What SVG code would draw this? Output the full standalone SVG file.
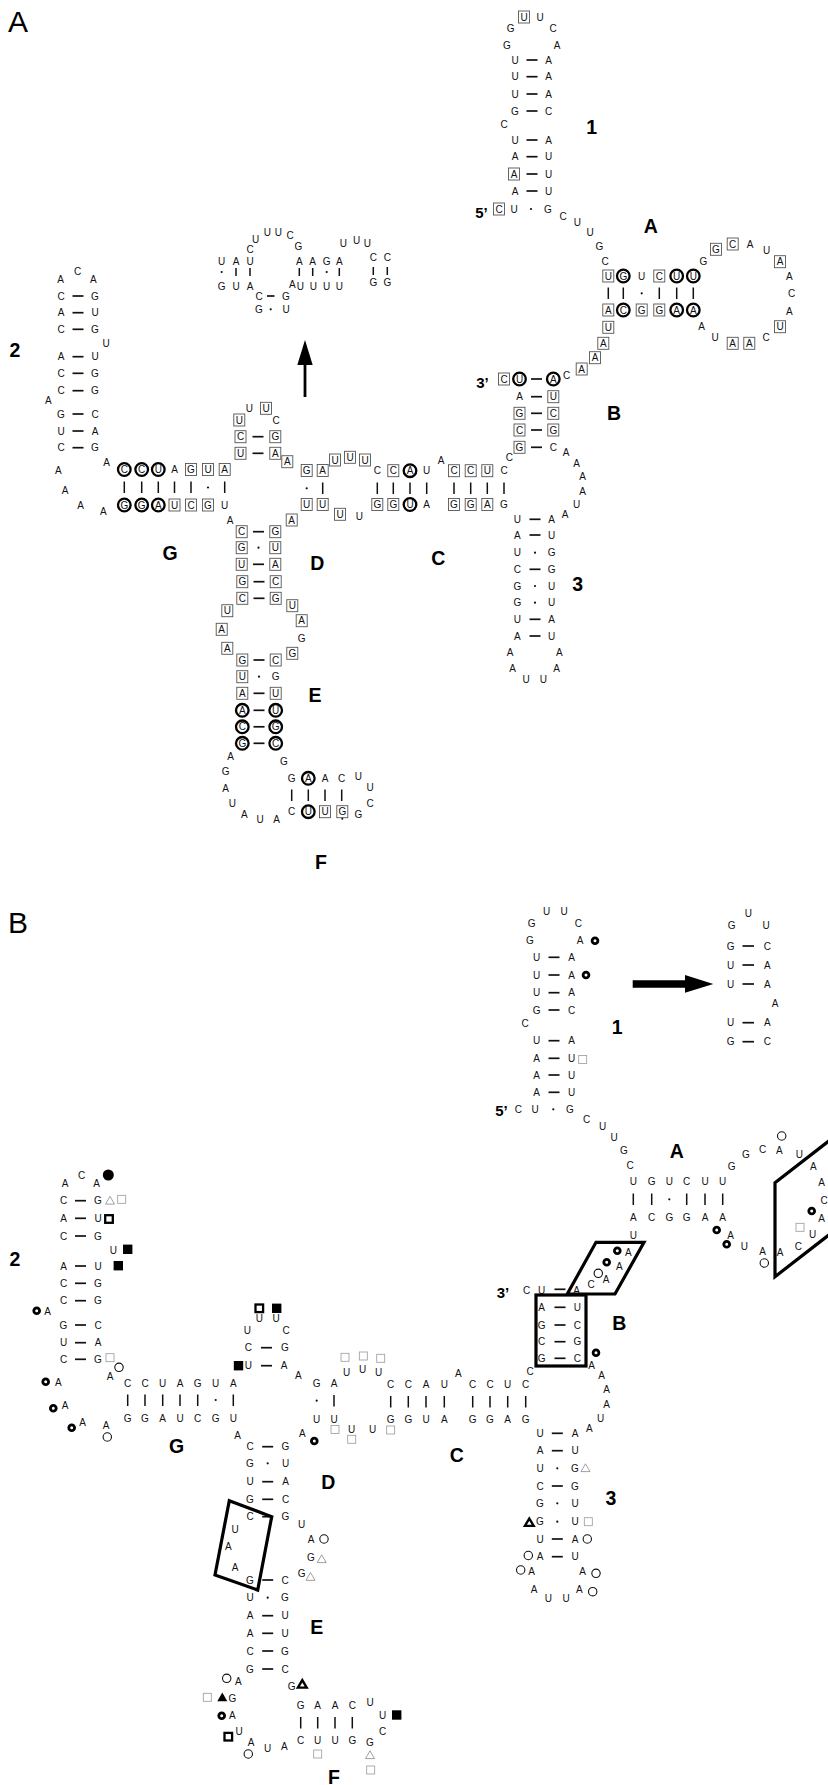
<svg xmlns="http://www.w3.org/2000/svg" width="828" height="1785" viewBox="0 0 828 1785">
<style>
text{font-family:"Liberation Sans",Arial,Helvetica,sans-serif;font-size:10px;text-anchor:middle;dominant-baseline:central;fill:#111}
.lb{font-size:19.5px;font-weight:bold;fill:#000}
.pn{font-size:30px;text-anchor:start;dominant-baseline:auto;fill:#000}
.end{font-size:15px;font-weight:bold;fill:#000}
line.p{stroke:#111;stroke-width:1.7}
line.b{stroke:#111;stroke-width:1.5}
circle.d{fill:#111}
.frame{fill:none;stroke:#000;stroke-width:3.2;stroke-linejoin:miter}
</style>
<defs>
<rect id="bx" x="-5.5" y="-6" width="11" height="12" fill="none" stroke="#555" stroke-width="0.9"/>
<circle id="rg" r="6.3" fill="none" stroke="#000" stroke-width="2.3"/>
<circle id="ring" r="2.9" fill="none" stroke="#000" stroke-width="2.8"/>
<circle id="oc" r="4.2" fill="none" stroke="#111" stroke-width="1.1"/>
<circle id="fc" r="5.5" fill="#000"/>
<rect id="fs" x="-4.7" y="-4.7" width="9.4" height="9.4" fill="#000"/>
<rect id="bs" x="-3.8" y="-3.8" width="7.6" height="7.6" fill="none" stroke="#000" stroke-width="2.3"/>
<rect id="ts" x="-4" y="-4" width="8" height="8" fill="none" stroke="#999" stroke-width="0.8"/>
<path id="ot" d="M0,-4.2 L4.5,3.6 L-4.5,3.6Z" fill="none" stroke="#888" stroke-width="0.8"/>
<path id="bt" d="M0,-3.8 L4.4,3.6 L-4.4,3.6Z" fill="none" stroke="#000" stroke-width="2.4"/>
<path id="ft" d="M0,-4.8 L5,4 L-5,4Z" fill="#000"/>
</defs>
<rect width="828" height="1785" fill="#fff"/>

<!-- ===================== Panel A ===================== -->
<text class="pn" x="8" y="32">A</text>

<g id="a-hairpin1">
<use href="#bx" x="524" y="17"/>
<text x="524" y="17">U</text><text x="540" y="17">U</text>
<text x="510.7" y="28">G</text><text x="553" y="28">C</text>
<text x="507" y="45">G</text><text x="557" y="45">A</text>
<text x="515" y="60">U</text><line class="p" x1="526.5" y1="60" x2="537.5" y2="60"/><text x="548.5" y="60">A</text>
<text x="515" y="76.7">U</text><line class="p" x1="526.5" y1="76.7" x2="537.5" y2="76.7"/><text x="548.5" y="76.7">A</text>
<text x="515" y="94">U</text><line class="p" x1="526.5" y1="94" x2="537.5" y2="94"/><text x="548.5" y="94">A</text>
<text x="515" y="111">G</text><line class="p" x1="526.5" y1="111" x2="537.5" y2="111"/><text x="548.5" y="111">C</text>
<text x="504" y="124">C</text>
<text x="515" y="140">U</text><line class="p" x1="526.5" y1="140" x2="537.5" y2="140"/><text x="548.5" y="140">A</text>
<text x="515" y="156.7">A</text><line class="p" x1="526.5" y1="156.7" x2="537.5" y2="156.7"/><text x="548.5" y="156.7">U</text>
<use href="#bx" x="514" y="174"/>
<text x="514" y="174">A</text><line class="p" x1="526.5" y1="174" x2="537.5" y2="174"/><text x="548.5" y="174">U</text>
<text x="515" y="191">A</text><line class="p" x1="526.5" y1="191" x2="537.5" y2="191"/><text x="548.5" y="191">U</text>
<text class="end" x="481.5" y="212">5’</text>
<use href="#bx" x="499" y="209"/><text x="499" y="209">C</text>
<text x="514" y="209">U</text><circle class="d" cx="531" cy="209" r="1.1"/><text x="548" y="209">G</text>
<text x="563" y="216">C</text><text x="577.3" y="222.7">U</text><text x="590" y="232.7">U</text>
<text x="599.3" y="246">G</text><text x="605" y="261">C</text>
</g>

<g id="a-stemA">
<use href="#bx" x="608.3" y="276"/><text x="608.3" y="276">U</text>
<use href="#rg" x="623.3" y="276"/><text x="623.3" y="276">G</text>
<text x="641.7" y="276">U</text>
<use href="#bx" x="659.3" y="276"/><text x="659.3" y="276">C</text>
<use href="#rg" x="676.7" y="276"/><text x="676.7" y="276">U</text>
<use href="#rg" x="693.3" y="276"/><text x="693.3" y="276">U</text>
<line class="b" x1="608.3" y1="287.5" x2="608.3" y2="299"/>
<line class="b" x1="623.3" y1="287.5" x2="623.3" y2="299"/>
<circle class="d" cx="641.7" cy="293.3" r="1.1"/>
<line class="b" x1="659.3" y1="287.5" x2="659.3" y2="299"/>
<line class="b" x1="676.7" y1="287.5" x2="676.7" y2="299"/>
<line class="b" x1="693.3" y1="287.5" x2="693.3" y2="299"/>
<use href="#bx" x="608.3" y="310"/><text x="608.3" y="310">A</text>
<use href="#rg" x="623.3" y="310"/><text x="623.3" y="310">C</text>
<use href="#bx" x="641.7" y="310"/><text x="641.7" y="310">G</text>
<use href="#bx" x="659.3" y="310"/><text x="659.3" y="310">G</text>
<use href="#rg" x="676.7" y="310"/><text x="676.7" y="310">A</text>
<use href="#rg" x="693.3" y="310"/><text x="693.3" y="310">A</text>
<use href="#bx" x="608.3" y="327.3"/><text x="608.3" y="327.3">U</text>
<use href="#bx" x="603.3" y="343.3"/><text x="603.3" y="343.3">A</text>
<use href="#bx" x="595" y="357.7"/><text x="595" y="357.7">A</text>
<use href="#bx" x="581.7" y="369"/><text x="581.7" y="369">A</text>
<text x="566.7" y="375.7">C</text>
</g>

<g id="a-loopA">
<text x="703.3" y="261.7">G</text>
<use href="#bx" x="716" y="249.3"/><text x="716" y="249.3">G</text>
<use href="#bx" x="732.7" y="244"/><text x="732.7" y="244">C</text>
<text x="750" y="244">A</text><text x="766.7" y="250">U</text>
<use href="#bx" x="780" y="261.7"/><text x="780" y="261.7">A</text>
<text x="789.3" y="276.7">A</text><text x="791.7" y="293.3">C</text><text x="789.3" y="311">A</text>
<use href="#bx" x="780" y="326.7"/><text x="780" y="326.7">U</text>
<text x="766" y="337.7">C</text>
<use href="#bx" x="749.3" y="343.3"/><text x="749.3" y="343.3">A</text>
<use href="#bx" x="732.7" y="343.3"/><text x="732.7" y="343.3">A</text>
<text x="715" y="337.7">U</text><text x="701.7" y="326">A</text>
</g>

<g id="a-stemB">
<text class="end" x="482.5" y="382">3’</text>
<use href="#bx" x="504" y="379"/><text x="504" y="379">C</text>
<use href="#rg" x="519.5" y="379"/><text x="519.5" y="379">U</text>
<line class="p" x1="531" y1="379" x2="542" y2="379"/>
<use href="#rg" x="553.3" y="379"/><text x="553.3" y="379">A</text>
<text x="519.5" y="396.7">A</text><line class="p" x1="531" y1="396.7" x2="542" y2="396.7"/>
<use href="#bx" x="553.3" y="396.7"/><text x="553.3" y="396.7">U</text>
<use href="#bx" x="519.5" y="413.3"/><text x="519.5" y="413.3">G</text><line class="p" x1="531" y1="413.3" x2="542" y2="413.3"/>
<use href="#bx" x="553.3" y="413.3"/><text x="553.3" y="413.3">C</text>
<use href="#bx" x="519.5" y="430"/><text x="519.5" y="430">C</text><line class="p" x1="531" y1="430" x2="542" y2="430"/>
<use href="#bx" x="553.3" y="430"/><text x="553.3" y="430">G</text>
<use href="#bx" x="519.5" y="447.3"/><text x="519.5" y="447.3">G</text><line class="p" x1="531" y1="447.3" x2="542" y2="447.3"/>
<text x="553.3" y="447.3">C</text>
<text x="566" y="452.3">A</text><text x="576.7" y="463.3">A</text><text x="582.7" y="476">A</text>
<text x="582.7" y="491">A</text><text x="576.7" y="504">U</text><text x="565" y="514">A</text>
<text x="509.3" y="457.7">C</text>
</g>

<g id="a-helixC">
<text x="377.3" y="470.7">C</text>
<use href="#bx" x="393.3" y="470.7"/><text x="393.3" y="470.7">C</text>
<use href="#rg" x="410" y="470.7"/><text x="410" y="470.7">A</text>
<text x="426.7" y="470.7">U</text>
<text x="441" y="460">A</text>
<use href="#bx" x="454" y="470.7"/><text x="454" y="470.7">C</text>
<use href="#bx" x="470.7" y="470.7"/><text x="470.7" y="470.7">C</text>
<use href="#bx" x="487.3" y="470.7"/><text x="487.3" y="470.7">U</text>
<text x="504" y="470.7">C</text>
<line class="b" x1="377.3" y1="482.5" x2="377.3" y2="494"/>
<line class="b" x1="393.3" y1="482.5" x2="393.3" y2="494"/>
<line class="b" x1="410" y1="482.5" x2="410" y2="494"/>
<line class="b" x1="426.7" y1="482.5" x2="426.7" y2="494"/>
<line class="b" x1="454" y1="482.5" x2="454" y2="494"/>
<line class="b" x1="470.7" y1="482.5" x2="470.7" y2="494"/>
<line class="b" x1="487.3" y1="482.5" x2="487.3" y2="494"/>
<line class="b" x1="504" y1="482.5" x2="504" y2="494"/>
<use href="#bx" x="377.3" y="504.5"/><text x="377.3" y="504.5">G</text>
<use href="#bx" x="393.3" y="504.5"/><text x="393.3" y="504.5">G</text>
<use href="#rg" x="410" y="504.5"/><text x="410" y="504.5">U</text>
<text x="426.7" y="504.5">A</text>
<use href="#bx" x="454" y="504.5"/><text x="454" y="504.5">G</text>
<use href="#bx" x="470.7" y="504.5"/><text x="470.7" y="504.5">G</text>
<use href="#bx" x="487.3" y="504.5"/><text x="487.3" y="504.5">A</text>
<text x="504" y="504.5">G</text>
</g>

<g id="a-hairpin3">
<text x="517.3" y="519.3">U</text><line class="p" x1="529.5" y1="519.3" x2="540.5" y2="519.3"/><text x="551.7" y="519.3">A</text>
<text x="517.3" y="535">A</text><line class="p" x1="529.5" y1="535" x2="540.5" y2="535"/><text x="551.7" y="535">U</text>
<text x="517.3" y="552.7">U</text><circle class="d" cx="535" cy="552.7" r="1.1"/><text x="551.7" y="552.7">G</text>
<text x="517.3" y="569.3">C</text><line class="p" x1="529.5" y1="569.3" x2="540.5" y2="569.3"/><text x="551.7" y="569.3">G</text>
<text x="517.3" y="586">G</text><circle class="d" cx="535" cy="586" r="1.1"/><text x="551.7" y="586">U</text>
<text x="517.3" y="602.7">G</text><circle class="d" cx="535" cy="602.7" r="1.1"/><text x="551.7" y="602.7">U</text>
<text x="517.3" y="619.3">U</text><line class="p" x1="529.5" y1="619.3" x2="540.5" y2="619.3"/><text x="551.7" y="619.3">A</text>
<text x="517.3" y="636">A</text><line class="p" x1="529.5" y1="636" x2="540.5" y2="636"/><text x="551.7" y="636">U</text>
<text x="510" y="652">A</text><text x="512.7" y="668.3">A</text><text x="526" y="679.3">U</text>
<text x="543.3" y="679.3">U</text><text x="556.7" y="668.3">A</text><text x="559.3" y="652">A</text>
</g>

<g id="a-junction">
<use href="#bx" x="335" y="460"/><text x="335" y="460">U</text>
<use href="#bx" x="350" y="457.3"/><text x="350" y="457.3">U</text>
<use href="#bx" x="365" y="460"/><text x="365" y="460">U</text>
<use href="#bx" x="306.7" y="470.5"/><text x="306.7" y="470.5">G</text>
<use href="#bx" x="322.7" y="470.5"/><text x="322.7" y="470.5">A</text>
<circle class="d" cx="306.7" cy="488.3" r="1.1"/>
<line class="b" x1="322.7" y1="482.5" x2="322.7" y2="494"/>
<use href="#bx" x="306.7" y="504.5"/><text x="306.7" y="504.5">U</text>
<use href="#bx" x="322.7" y="504.5"/><text x="322.7" y="504.5">U</text>
<use href="#bx" x="340" y="514.3"/><text x="340" y="514.3">U</text>
<text x="359.3" y="516">U</text>
<use href="#bx" x="287.3" y="461.7"/><text x="287.3" y="461.7">A</text>
<use href="#bx" x="291.7" y="520"/><text x="291.7" y="520">A</text>
<text x="230" y="520">A</text>
</g>

<g id="a-stemD">
<text x="249.3" y="408.3">U</text>
<use href="#bx" x="266" y="408.3"/><text x="266" y="408.3">U</text>
<use href="#bx" x="239.3" y="420"/><text x="239.3" y="420">U</text>
<text x="276" y="420">C</text>
<use href="#bx" x="240.5" y="436.7"/><text x="240.5" y="436.7">C</text><line class="p" x1="252.5" y1="436.7" x2="263.5" y2="436.7"/>
<use href="#bx" x="275.3" y="436.7"/><text x="275.3" y="436.7">G</text>
<use href="#bx" x="240.5" y="453.3"/><text x="240.5" y="453.3">U</text><line class="p" x1="252.5" y1="453.3" x2="263.5" y2="453.3"/>
<use href="#bx" x="275.3" y="453.3"/><text x="275.3" y="453.3">A</text>
<use href="#bx" x="241.7" y="531.7"/><text x="241.7" y="531.7">C</text><line class="p" x1="253" y1="531.7" x2="264" y2="531.7"/>
<use href="#bx" x="275.3" y="531.7"/><text x="275.3" y="531.7">G</text>
<use href="#bx" x="241.7" y="547.7"/><text x="241.7" y="547.7">G</text><circle class="d" cx="258.5" cy="547.7" r="1.1"/>
<use href="#bx" x="275.3" y="547.7"/><text x="275.3" y="547.7">U</text>
<use href="#bx" x="241.7" y="564.3"/><text x="241.7" y="564.3">U</text><line class="p" x1="253" y1="564.3" x2="264" y2="564.3"/>
<use href="#bx" x="275.3" y="564.3"/><text x="275.3" y="564.3">A</text>
<use href="#bx" x="242.3" y="581.7"/><text x="242.3" y="581.7">G</text><line class="p" x1="253.5" y1="581.7" x2="264.5" y2="581.7"/>
<use href="#bx" x="275.7" y="581.7"/><text x="275.7" y="581.7">C</text>
<use href="#bx" x="242.3" y="598.3"/><text x="242.3" y="598.3">C</text><line class="p" x1="253.5" y1="598.3" x2="264.5" y2="598.3"/>
<use href="#bx" x="275.7" y="598.3"/><text x="275.7" y="598.3">G</text>
</g>

<g id="a-loopE">
<use href="#bx" x="292.3" y="605.7"/><text x="292.3" y="605.7">U</text>
<use href="#bx" x="301.7" y="620.7"/><text x="301.7" y="620.7">A</text>
<text x="301.7" y="638.3">G</text>
<use href="#bx" x="292.3" y="653.3"/><text x="292.3" y="653.3">G</text>
<use href="#bx" x="227.3" y="610.7"/><text x="227.3" y="610.7">U</text>
<use href="#bx" x="221.7" y="629.3"/><text x="221.7" y="629.3">A</text>
<use href="#bx" x="227.3" y="648.3"/><text x="227.3" y="648.3">A</text>
</g>

<g id="a-stemE">
<use href="#bx" x="242.3" y="660"/><text x="242.3" y="660">G</text><line class="p" x1="253.5" y1="660" x2="264.5" y2="660"/>
<use href="#bx" x="275.7" y="660"/><text x="275.7" y="660">C</text>
<use href="#bx" x="242.3" y="676.7"/><text x="242.3" y="676.7">U</text><circle class="d" cx="259" cy="676.7" r="1.1"/>
<text x="275.7" y="676.7">G</text>
<use href="#bx" x="242.3" y="693.3"/><text x="242.3" y="693.3">A</text><line class="p" x1="253.5" y1="693.3" x2="264.5" y2="693.3"/>
<use href="#bx" x="275.7" y="693.3"/><text x="275.7" y="693.3">U</text>
<use href="#rg" x="242.3" y="710.3"/><text x="242.3" y="710.3">A</text><line class="p" x1="253.5" y1="710.3" x2="264.5" y2="710.3"/>
<use href="#rg" x="275.7" y="710.3"/><text x="275.7" y="710.3">U</text>
<use href="#rg" x="242.3" y="726.8"/><text x="242.3" y="726.8">C</text><line class="p" x1="253.5" y1="726.8" x2="264.5" y2="726.8"/>
<use href="#rg" x="275.7" y="726.8"/><text x="275.7" y="726.8">G</text>
<use href="#rg" x="242.3" y="743.3"/><text x="242.3" y="743.3">G</text><line class="p" x1="253.5" y1="743.3" x2="264.5" y2="743.3"/>
<use href="#rg" x="275.7" y="743.3"/><text x="275.7" y="743.3">C</text>
</g>

<g id="a-loopF">
<text x="230.7" y="756.7">A</text><text x="225.7" y="771.7">G</text><text x="225.7" y="788.3">A</text>
<text x="232.3" y="803.3">U</text><text x="244.3" y="814">A</text><text x="260" y="819.3">U</text><text x="276.7" y="819.3">A</text>
<text x="284" y="761">G</text>
<text x="291.7" y="778.3">G</text>
<use href="#rg" x="308.3" y="778.3"/><text x="308.3" y="778.3">A</text>
<text x="325" y="778.3">A</text><text x="341.7" y="778.3">C</text>
<text x="358.3" y="776">U</text><text x="370" y="787.3">U</text><text x="370" y="803.3">C</text><text x="358.3" y="814">G</text>
<line class="b" x1="291.7" y1="789.5" x2="291.7" y2="801"/>
<line class="b" x1="308.3" y1="789.5" x2="308.3" y2="801"/>
<line class="b" x1="325" y1="789.5" x2="325" y2="801"/>
<line class="b" x1="341.7" y1="789.5" x2="341.7" y2="801"/>
<text x="291.7" y="811.7">C</text>
<use href="#rg" x="308.3" y="811.7"/><text x="308.3" y="811.7">U</text>
<use href="#bx" x="325" y="811.7"/><text x="325" y="811.7">U</text>
<use href="#bx" x="342.3" y="811.7"/><text x="342.3" y="811.7">G</text>
<circle class="d" cx="342.3" cy="818.8" r="1"/>
</g>

<g id="a-hairpin2">
<text x="60.7" y="279.3">A</text><text x="77.7" y="271">C</text><text x="93.3" y="279.3">A</text>
<text x="61" y="296">C</text><line class="p" x1="72.5" y1="296" x2="83.5" y2="296"/><text x="95" y="296">G</text>
<text x="61" y="312.7">A</text><line class="p" x1="72.5" y1="312.7" x2="83.5" y2="312.7"/><text x="95" y="312.7">U</text>
<text x="61" y="329.3">C</text><line class="p" x1="72.5" y1="329.3" x2="83.5" y2="329.3"/><text x="95" y="329.3">G</text>
<text x="106" y="343.3">U</text>
<text x="61" y="356.7">A</text><line class="p" x1="72.5" y1="356.7" x2="83.5" y2="356.7"/><text x="95" y="356.7">U</text>
<text x="61" y="373.3">C</text><line class="p" x1="72.5" y1="373.3" x2="83.5" y2="373.3"/><text x="95" y="373.3">G</text>
<text x="61" y="390.7">C</text><line class="p" x1="72.5" y1="390.7" x2="83.5" y2="390.7"/><text x="95" y="390.7">G</text>
<text x="48.3" y="400.7">A</text>
<text x="61" y="414">G</text><line class="p" x1="72.5" y1="414" x2="83.5" y2="414"/><text x="95" y="414">C</text>
<text x="61" y="431">U</text><line class="p" x1="72.5" y1="431" x2="83.5" y2="431"/><text x="95" y="431">A</text>
<text x="61" y="447.7">C</text><line class="p" x1="72.5" y1="447.7" x2="83.5" y2="447.7"/><text x="95" y="447.7">G</text>
<text x="106.7" y="462.7">A</text>
<text x="58.3" y="470">A</text><text x="65" y="490.7">A</text><text x="80.7" y="505.7">A</text><text x="103.3" y="511.7">A</text>
</g>

<g id="a-helixG">
<use href="#rg" x="124.3" y="469.5"/><text x="124.3" y="469.5">C</text>
<use href="#rg" x="141.7" y="469.5"/><text x="141.7" y="469.5">C</text>
<use href="#rg" x="158.3" y="469.5"/><text x="158.3" y="469.5">U</text>
<text x="174.5" y="469.5">A</text>
<use href="#bx" x="191" y="469.5"/><text x="191" y="469.5">G</text>
<use href="#bx" x="208" y="469.5"/><text x="208" y="469.5">U</text>
<use href="#bx" x="224.7" y="469.5"/><text x="224.7" y="469.5">A</text>
<line class="b" x1="124.3" y1="481.5" x2="124.3" y2="493"/>
<line class="b" x1="141.7" y1="481.5" x2="141.7" y2="493"/>
<line class="b" x1="158.3" y1="481.5" x2="158.3" y2="493"/>
<line class="b" x1="174.5" y1="481.5" x2="174.5" y2="493"/>
<line class="b" x1="191" y1="481.5" x2="191" y2="493"/>
<circle class="d" cx="208" cy="487.5" r="1.1"/>
<line class="b" x1="224.7" y1="481.5" x2="224.7" y2="493"/>
<use href="#rg" x="124.3" y="505"/><text x="124.3" y="505">G</text>
<use href="#rg" x="141.7" y="505"/><text x="141.7" y="505">G</text>
<use href="#rg" x="158.3" y="505"/><text x="158.3" y="505">A</text>
<use href="#bx" x="174.5" y="505"/><text x="174.5" y="505">U</text>
<use href="#bx" x="191" y="505"/><text x="191" y="505">C</text>
<use href="#bx" x="208" y="505"/><text x="208" y="505">G</text>
<text x="224.7" y="505">U</text>
</g>

<g id="a-inset">
<text x="250" y="249.3">C</text><text x="255.5" y="239">U</text><text x="267.3" y="232.3">U</text>
<text x="278.3" y="232.3">U</text><text x="290" y="235.7">C</text><text x="298.3" y="246">G</text>
<text x="221.7" y="261.7">U</text><text x="236" y="261.7">A</text><text x="250" y="261.7">U</text>
<circle class="d" cx="221.7" cy="272" r="1.1"/>
<line class="b" x1="236" y1="268" x2="236" y2="276"/>
<line class="b" x1="250" y1="268" x2="250" y2="276"/>
<text x="221.7" y="286">G</text><text x="236" y="286">U</text><text x="250" y="286">A</text>
<text x="259" y="296">C</text><line class="p" x1="267" y1="296" x2="274.5" y2="296"/><text x="286" y="296">G</text>
<text x="259" y="309.3">G</text><circle class="d" cx="270.7" cy="309.3" r="1.1"/><text x="286" y="309.3">U</text>
<text x="299.3" y="261.7">A</text><text x="312.7" y="261.7">A</text><text x="326.7" y="261.7">G</text><text x="339.3" y="261.7">A</text>
<line class="b" x1="299.3" y1="268" x2="299.3" y2="276"/>
<line class="b" x1="312.7" y1="268" x2="312.7" y2="276"/>
<circle class="d" cx="326.7" cy="272" r="1.1"/>
<line class="b" x1="339.3" y1="268" x2="339.3" y2="276"/>
<text x="292.3" y="284.5">A</text>
<text x="300.3" y="286">U</text><text x="313.3" y="286">U</text><text x="326.7" y="286">U</text><text x="339.3" y="286">U</text>
<text x="343.3" y="243.3">U</text><text x="356.7" y="240">U</text><text x="367.3" y="243.3">U</text>
<text x="373.3" y="257.3">C</text><text x="387.3" y="257.3">C</text>
<line class="b" x1="373.3" y1="267" x2="373.3" y2="275"/>
<line class="b" x1="387.3" y1="267" x2="387.3" y2="275"/>
<text x="373.3" y="282.7">G</text><text x="387.3" y="282.7">G</text>
</g>

<g id="a-labels">
<text class="lb" x="591.7" y="127">1</text>
<text class="lb" x="650.7" y="226">A</text>
<text class="lb" x="614" y="413">B</text>
<text class="lb" x="577.7" y="584">3</text>
<text class="lb" x="438.3" y="558.3">C</text>
<text class="lb" x="317.3" y="563.3">D</text>
<text class="lb" x="315" y="695">E</text>
<text class="lb" x="321" y="861.7">F</text>
<text class="lb" x="170" y="552.7">G</text>
<text class="lb" x="15" y="350">2</text>
</g>

<!-- ===================== Panel B ===================== -->
<text class="pn" x="8" y="933">B</text>

<g id="b-hairpin1">
<text x="546.7" y="911.7">U</text><text x="564" y="911.7">U</text>
<text x="531.7" y="923.3">G</text><text x="578.3" y="923.3">C</text>
<text x="530" y="940.7">G</text><text x="580" y="940.7">A</text><use href="#ring" x="595" y="940.7"/>
<text x="536.7" y="957.3">U</text><line class="p" x1="548.5" y1="957.3" x2="559.5" y2="957.3"/><text x="571.7" y="957.3">A</text>
<text x="536.7" y="975">U</text><line class="p" x1="548.5" y1="975" x2="559.5" y2="975"/><text x="571.7" y="975">A</text><use href="#ring" x="586" y="975"/>
<text x="536.7" y="992.7">U</text><line class="p" x1="548.5" y1="992.7" x2="559.5" y2="992.7"/><text x="571.7" y="992.7">A</text>
<text x="536.7" y="1010">G</text><line class="p" x1="548.5" y1="1010" x2="559.5" y2="1010"/><text x="571.7" y="1010">C</text>
<text x="525" y="1023.3">C</text>
<text x="536.7" y="1040.7">U</text><line class="p" x1="548.5" y1="1040.7" x2="559.5" y2="1040.7"/><text x="571.7" y="1040.7">A</text>
<text x="536.7" y="1058.3">A</text><line class="p" x1="548.5" y1="1058.3" x2="559.5" y2="1058.3"/><text x="571.7" y="1058.3">U</text><use href="#ts" x="582.7" y="1059.5"/>
<text x="536.7" y="1075">A</text><line class="p" x1="548.5" y1="1075" x2="559.5" y2="1075"/><text x="571.7" y="1075">U</text>
<text x="536.7" y="1092.3">A</text><line class="p" x1="548.5" y1="1092.3" x2="559.5" y2="1092.3"/><text x="571.7" y="1092.3">U</text>
<text class="end" x="501.5" y="1110.5">5’</text>
<text x="518.3" y="1109.3">C</text><text x="535" y="1109.3">U</text><circle class="d" cx="553.3" cy="1109.3" r="1.1"/><text x="570" y="1109.3">G</text>
<text x="586.7" y="1119.3">C</text><text x="602.7" y="1126.7">U</text><text x="614" y="1137.3">U</text>
<text x="624" y="1150.7">G</text><text x="630" y="1165">C</text>
</g>

<g id="b-inset1">
<text x="748.3" y="913.3">U</text><text x="731.7" y="925">G</text><text x="766" y="925">U</text>
<text x="730.7" y="946">G</text><line class="p" x1="742.5" y1="946" x2="754" y2="946"/><text x="767.3" y="946">C</text>
<text x="730.7" y="965">U</text><line class="p" x1="742.5" y1="965" x2="754" y2="965"/><text x="767.3" y="965">A</text>
<text x="730.7" y="984">U</text><line class="p" x1="742.5" y1="984" x2="754" y2="984"/><text x="767.3" y="984">A</text>
<text x="775" y="1003.3">A</text>
<text x="730.7" y="1022.7">U</text><line class="p" x1="742.5" y1="1022.7" x2="754" y2="1022.7"/><text x="767.3" y="1022.7">A</text>
<text x="730.7" y="1041.7">G</text><line class="p" x1="742.5" y1="1041.7" x2="754" y2="1041.7"/><text x="767.3" y="1041.7">C</text>
</g>

<g id="b-stemA">
<text x="633.3" y="1181.7">U</text><text x="651.7" y="1181.7">G</text><text x="669.3" y="1181.7">U</text>
<text x="686.7" y="1181.7">C</text><text x="705" y="1181.7">U</text><text x="722.7" y="1181.7">U</text>
<line class="b" x1="633.3" y1="1193.5" x2="633.3" y2="1205"/>
<line class="b" x1="651.7" y1="1193.5" x2="651.7" y2="1205"/>
<circle class="d" cx="669.3" cy="1199.3" r="1.1"/>
<line class="b" x1="686.7" y1="1193.5" x2="686.7" y2="1205"/>
<line class="b" x1="705" y1="1193.5" x2="705" y2="1205"/>
<line class="b" x1="722.7" y1="1193.5" x2="722.7" y2="1205"/>
<text x="633.3" y="1217.3">A</text><text x="651.7" y="1217.3">C</text><text x="669.3" y="1217.3">G</text>
<text x="686.7" y="1217.3">G</text><text x="705" y="1217.3">A</text><text x="722.7" y="1217.3">A</text>
<text x="633.3" y="1235">U</text>
</g>

<g id="b-loopA">
<text x="731.7" y="1166.7">G</text><text x="746" y="1154.3">G</text><text x="762.7" y="1149">C</text>
<text x="779.3" y="1150">A</text><use href="#oc" x="781.7" y="1136"/>
<text x="799.3" y="1154.3">U</text><text x="813.3" y="1166.7">A</text><text x="821.7" y="1182.7">A</text>
<text x="824" y="1200">C</text>
<use href="#ring" x="811.7" y="1211"/><text x="821.7" y="1218.3">A</text>
<use href="#ts" x="800" y="1227.3"/><text x="812.7" y="1234.3">U</text>
<text x="798.3" y="1246.7">C</text><text x="780" y="1252.7">A</text>
<text x="762.7" y="1251.7">A</text><use href="#oc" x="764.3" y="1263"/>
<text x="744.3" y="1246.7">U</text><use href="#ring" x="726.7" y="1244.3"/>
<text x="730.7" y="1235">A</text><use href="#ring" x="716.7" y="1230"/>
<polygon class="frame" points="775,1182.7 842,1130.8 842,1224.8 775,1276.7"/>
</g>

<g id="b-stemB">
<polygon class="frame" points="596,1242.3 644,1242.3 615,1294 567.3,1294"/>
<use href="#ring" x="617.3" y="1250.7"/><text x="628.3" y="1252.7">A</text>
<use href="#ring" x="606.7" y="1262.3"/><text x="619.3" y="1266.7">A</text>
<use href="#oc" x="598.3" y="1273.3"/><text x="606" y="1279">A</text>
<text x="591" y="1284.3">C</text>
<text class="end" x="503" y="1292.5">3’</text>
<text x="526.7" y="1290">C</text><text x="541.7" y="1290">U</text>
<line class="p" x1="554.5" y1="1289.3" x2="565.5" y2="1289.3"/><text x="576.7" y="1290">A</text>
<rect class="frame" x="536" y="1295" width="50" height="71"/>
<text x="541.7" y="1307.3">A</text><line class="p" x1="554.5" y1="1307.3" x2="565.5" y2="1307.3"/><text x="577.3" y="1307.3">U</text>
<text x="541.7" y="1325">G</text><line class="p" x1="554.5" y1="1325" x2="565.5" y2="1325"/><text x="577.3" y="1325">C</text>
<text x="541.7" y="1341.7">C</text><line class="p" x1="554.5" y1="1341.7" x2="565.5" y2="1341.7"/><text x="577.3" y="1341.7">G</text>
<text x="541.7" y="1358.3">G</text><line class="p" x1="554.5" y1="1358.3" x2="565.5" y2="1358.3"/><text x="577.3" y="1358.3">C</text>
<use href="#ring" x="596" y="1352.7"/><text x="591.7" y="1365">A</text>
<text x="530" y="1371.7">C</text>
<text x="601.7" y="1375">A</text><text x="606.7" y="1389.3">A</text><text x="606.7" y="1404.3">A</text>
<text x="600.7" y="1418.3">U</text><text x="589.3" y="1428.3">A</text>
</g>

<g id="b-helixC">
<text x="390.7" y="1384">C</text><text x="408.3" y="1384">C</text><text x="426" y="1384">A</text><text x="444.3" y="1384">U</text>
<text x="458.3" y="1373.3">A</text>
<text x="472.7" y="1384">C</text><text x="490" y="1384">C</text><text x="507.7" y="1384">U</text><text x="525.7" y="1384">C</text>
<line class="b" x1="390.7" y1="1396" x2="390.7" y2="1407.5"/>
<line class="b" x1="408.3" y1="1396" x2="408.3" y2="1407.5"/>
<line class="b" x1="426" y1="1396" x2="426" y2="1407.5"/>
<line class="b" x1="444.3" y1="1396" x2="444.3" y2="1407.5"/>
<line class="b" x1="472.7" y1="1396" x2="472.7" y2="1407.5"/>
<line class="b" x1="490" y1="1396" x2="490" y2="1407.5"/>
<line class="b" x1="507.7" y1="1396" x2="507.7" y2="1407.5"/>
<line class="b" x1="525.7" y1="1396" x2="525.7" y2="1407.5"/>
<text x="390.7" y="1419.3">G</text><text x="408.3" y="1419.3">G</text><text x="426" y="1419.3">U</text><text x="444.3" y="1419.3">A</text>
<text x="472.7" y="1419.3">G</text><text x="490" y="1419.3">G</text><text x="507.7" y="1419.3">A</text><text x="525.7" y="1419.3">G</text>
</g>

<g id="b-hairpin3">
<text x="540" y="1433.3">U</text><line class="p" x1="551.8" y1="1433.3" x2="562.8" y2="1433.3"/><text x="575" y="1433.3">A</text>
<text x="540" y="1450.7">A</text><line class="p" x1="551.8" y1="1450.7" x2="562.8" y2="1450.7"/><text x="575" y="1450.7">U</text>
<text x="540" y="1468.3">U</text><circle class="d" cx="557.3" cy="1468.3" r="1.1"/><text x="575" y="1468.3">G</text><use href="#ot" x="585.5" y="1468"/>
<text x="540" y="1486">C</text><line class="p" x1="551.8" y1="1486" x2="562.8" y2="1486"/><text x="575" y="1486">G</text>
<text x="540" y="1503.3">G</text><circle class="d" cx="557.3" cy="1503.3" r="1.1"/><text x="575" y="1503.3">U</text>
<use href="#bt" x="529.3" y="1522.3"/>
<text x="540" y="1521.7">G</text><circle class="d" cx="557.3" cy="1521.7" r="1.1"/><text x="575" y="1521.7">U</text><use href="#ts" x="588.3" y="1521.7"/>
<text x="540" y="1539">U</text><line class="p" x1="551.8" y1="1539" x2="562.8" y2="1539"/><text x="575" y="1539">A</text><use href="#oc" x="587.3" y="1539"/>
<use href="#oc" x="528.3" y="1555.5"/>
<text x="540" y="1556.7">A</text><line class="p" x1="551.8" y1="1556.7" x2="562.8" y2="1556.7"/><text x="575" y="1556.7">U</text>
<use href="#oc" x="520.7" y="1570"/><text x="531.7" y="1571.7">A</text>
<text x="582.7" y="1571.7">A</text><use href="#oc" x="596" y="1573.3"/>
<text x="534" y="1589.3">A</text>
<text x="579.3" y="1589.3">A</text><use href="#oc" x="592.7" y="1591.7"/>
<text x="548.3" y="1598.3">U</text><text x="566" y="1598.3">U</text>
</g>

<g id="b-junction">
<use href="#ts" x="345" y="1357.3"/><use href="#ts" x="363.3" y="1356"/><use href="#ts" x="380.7" y="1358.3"/>
<text x="346.7" y="1372.7">U</text><text x="362.7" y="1369.3">U</text><text x="378.7" y="1372.7">U</text>
<text x="316.7" y="1383.3">G</text><text x="334" y="1383.3">A</text>
<circle class="d" cx="316.7" cy="1400.7" r="1.1"/>
<line class="b" x1="334" y1="1395" x2="334" y2="1406.5"/>
<text x="316.7" y="1419.3">U</text><text x="334" y="1419.3">U</text>
<use href="#ts" x="335" y="1429.5"/>
<text x="351.7" y="1429.3">U</text><use href="#ts" x="351.7" y="1439.3"/>
<text x="372.7" y="1429.3">U</text><use href="#ts" x="390.7" y="1430"/>
<text x="298.3" y="1375">A</text>
<text x="302.3" y="1433.3">A</text><use href="#ring" x="314.3" y="1441"/>
<text x="237.7" y="1435">A</text>
</g>

<g id="b-stemD">
<use href="#bs" x="259.3" y="1308.3"/><use href="#fs" x="276.7" y="1308.3"/>
<text x="259.3" y="1318.5">U</text><text x="276" y="1318.5">U</text>
<text x="247.3" y="1330.7">U</text><text x="286" y="1330.7">C</text>
<text x="248.3" y="1347.7">C</text><line class="p" x1="261" y1="1347.7" x2="272" y2="1347.7"/><text x="285" y="1347.7">G</text>
<use href="#fs" x="238.5" y="1365.7"/>
<text x="248.3" y="1365.7">U</text><line class="p" x1="261" y1="1365.7" x2="272" y2="1365.7"/><text x="284" y="1365.7">A</text>
<text x="250" y="1446.7">C</text><line class="p" x1="262.2" y1="1446.7" x2="273.2" y2="1446.7"/><text x="285.5" y="1446.7">G</text>
<text x="250" y="1463.3">G</text><circle class="d" cx="267.7" cy="1463.3" r="1.1"/><text x="285.5" y="1463.3">U</text>
<text x="250" y="1481.7">U</text><line class="p" x1="262.2" y1="1481.7" x2="273.2" y2="1481.7"/><text x="285.5" y="1481.7">A</text>
<text x="250" y="1499.3">G</text><line class="p" x1="262.2" y1="1499.3" x2="273.2" y2="1499.3"/><text x="285.5" y="1499.3">C</text>
<text x="250" y="1516.7">C</text><line class="p" x1="262.2" y1="1516.7" x2="273.2" y2="1516.7"/><text x="285.5" y="1516.7">G</text>
</g>

<g id="b-loopE">
<polygon class="frame" points="229.3,1500.7 271.7,1516.7 257.7,1590 215,1575"/>
<text x="235" y="1529.3">U</text><text x="228.3" y="1546">A</text><text x="235" y="1567.7">A</text>
<text x="301.7" y="1524.3">U</text>
<text x="311" y="1539.3">A</text><use href="#oc" x="324" y="1539"/>
<text x="311" y="1557.7">G</text><use href="#ot" x="321.7" y="1559"/>
<text x="301.7" y="1573.3">G</text><use href="#ot" x="310.5" y="1576.7"/>
</g>

<g id="b-stemE">
<text x="250" y="1580">G</text><line class="p" x1="262.2" y1="1580" x2="273.2" y2="1580"/><text x="285" y="1580">C</text>
<text x="250" y="1597.7">U</text><circle class="d" cx="267.7" cy="1597.7" r="1.1"/><text x="285" y="1597.7">G</text>
<text x="250" y="1615.7">A</text><line class="p" x1="262.2" y1="1615.7" x2="273.2" y2="1615.7"/><text x="285" y="1615.7">U</text>
<text x="250" y="1633.3">A</text><line class="p" x1="262.2" y1="1633.3" x2="273.2" y2="1633.3"/><text x="285" y="1633.3">U</text>
<text x="250" y="1651">C</text><line class="p" x1="262.2" y1="1651" x2="273.2" y2="1651"/><text x="285" y="1651">G</text>
<text x="250" y="1669">G</text><line class="p" x1="262.2" y1="1669" x2="273.2" y2="1669"/><text x="285" y="1669">C</text>
</g>

<g id="b-loopF">
<use href="#oc" x="226.7" y="1678.3"/><text x="238.3" y="1681">A</text>
<use href="#ts" x="207.3" y="1697.3"/><use href="#ft" x="222.3" y="1697.3"/><text x="232.3" y="1698">G</text>
<use href="#ring" x="221.7" y="1715.7"/><text x="232.3" y="1715.7">A</text>
<use href="#bs" x="228.3" y="1736.7"/><text x="239" y="1731">U</text>
<text x="251" y="1742.7">A</text><use href="#oc" x="248.3" y="1754"/>
<text x="267.7" y="1748.3">U</text><text x="284.3" y="1746.7">A</text>
<text x="291.7" y="1686.7">G</text><use href="#bt" x="302.3" y="1684"/>
<text x="300.7" y="1705">G</text><text x="317.7" y="1705">A</text><text x="335" y="1705">A</text><text x="352.3" y="1705">C</text>
<text x="370" y="1702.7">U</text><text x="382.7" y="1715">U</text><use href="#fs" x="396.7" y="1715"/>
<text x="382.7" y="1731.7">C</text><text x="370" y="1742.7">G</text>
<use href="#ot" x="370" y="1755"/><use href="#ts" x="370.7" y="1770"/>
<line class="b" x1="300.7" y1="1717" x2="300.7" y2="1728.5"/>
<line class="b" x1="317.7" y1="1717" x2="317.7" y2="1728.5"/>
<line class="b" x1="335" y1="1717" x2="335" y2="1728.5"/>
<line class="b" x1="352.3" y1="1717" x2="352.3" y2="1728.5"/>
<text x="300.7" y="1740">C</text><text x="317.7" y="1740">U</text><text x="335" y="1740">U</text><text x="352.3" y="1740">G</text>
<use href="#ts" x="317.7" y="1754"/>
</g>

<g id="b-hairpin2">
<text x="65" y="1183.3">A</text><text x="81.7" y="1175">C</text><text x="96.7" y="1183.3">A</text><use href="#fc" x="108.3" y="1175"/>
<text x="63.5" y="1200.7">C</text><line class="p" x1="75" y1="1200.7" x2="86" y2="1200.7"/><text x="98" y="1200.7">G</text>
<use href="#ot" x="110" y="1200.5"/><use href="#ts" x="121.7" y="1199.3"/>
<text x="63.5" y="1218.3">A</text><line class="p" x1="75" y1="1218.3" x2="86" y2="1218.3"/><text x="98" y="1218.3">U</text><use href="#bs" x="109" y="1219"/>
<text x="63.5" y="1236">C</text><line class="p" x1="75" y1="1236" x2="86" y2="1236"/><text x="98" y="1236">G</text>
<text x="113.3" y="1250">U</text><use href="#fs" x="127.7" y="1249.3"/>
<text x="63.5" y="1266">A</text><line class="p" x1="75" y1="1266" x2="86" y2="1266"/><text x="98" y="1266">U</text><use href="#fs" x="118.3" y="1265.7"/>
<text x="63.5" y="1283.3">C</text><line class="p" x1="75" y1="1283.3" x2="86" y2="1283.3"/><text x="98" y="1283.3">G</text>
<text x="63.5" y="1300.7">C</text><line class="p" x1="75" y1="1300.7" x2="86" y2="1300.7"/><text x="98" y="1300.7">G</text>
<use href="#ring" x="36.7" y="1310.7"/><text x="47.7" y="1311.7">A</text>
<text x="63.5" y="1325">G</text><line class="p" x1="75" y1="1325" x2="86" y2="1325"/><text x="98" y="1325">C</text>
<text x="63.5" y="1342.7">U</text><line class="p" x1="75" y1="1342.7" x2="86" y2="1342.7"/><text x="98" y="1342.7">A</text>
<text x="63.5" y="1359.3">C</text><line class="p" x1="75" y1="1359.3" x2="86" y2="1359.3"/><text x="98" y="1359.3">G</text><use href="#ts" x="110" y="1357.7"/>
<use href="#oc" x="119" y="1367.3"/><text x="110" y="1376">A</text>
<use href="#ring" x="45.7" y="1381.7"/><text x="58.3" y="1382.3">A</text>
<use href="#ring" x="53.3" y="1408.3"/><text x="65" y="1405.7">A</text>
<use href="#ring" x="71.7" y="1427.7"/><text x="82.7" y="1422.3">A</text>
<text x="106" y="1425.7">A</text><use href="#oc" x="107.3" y="1437"/>
</g>

<g id="b-helixG">
<text x="127.7" y="1383.3">C</text><text x="145" y="1383.3">C</text><text x="162.7" y="1383.3">U</text><text x="180" y="1383.3">A</text>
<text x="197.7" y="1383.3">G</text><text x="215.7" y="1383.3">U</text><text x="233.3" y="1383.3">A</text>
<line class="b" x1="127.7" y1="1394.5" x2="127.7" y2="1406"/>
<line class="b" x1="145" y1="1394.5" x2="145" y2="1406"/>
<line class="b" x1="162.7" y1="1394.5" x2="162.7" y2="1406"/>
<line class="b" x1="180" y1="1394.5" x2="180" y2="1406"/>
<line class="b" x1="197.7" y1="1394.5" x2="197.7" y2="1406"/>
<circle class="d" cx="215.7" cy="1400" r="1.1"/>
<line class="b" x1="233.3" y1="1394.5" x2="233.3" y2="1406"/>
<text x="127.7" y="1418.3">G</text><text x="145" y="1418.3">G</text><text x="162.7" y="1418.3">A</text><text x="180" y="1418.3">U</text>
<text x="197.7" y="1418.3">C</text><text x="215.7" y="1418.3">G</text><text x="233.3" y="1418.3">U</text>
</g>

<g id="b-labels">
<text class="lb" x="617.3" y="1026.7">1</text>
<text class="lb" x="676.7" y="1150.7">A</text>
<text class="lb" x="619.3" y="1323.3">B</text>
<text class="lb" x="611" y="1498.3">3</text>
<text class="lb" x="456.7" y="1455">C</text>
<text class="lb" x="328.3" y="1481.7">D</text>
<text class="lb" x="316.7" y="1626.7">E</text>
<text class="lb" x="334" y="1776.5">F</text>
<text class="lb" x="176.7" y="1446">G</text>
<text class="lb" x="15" y="1259">2</text>
</g>

<!-- arrows linking each structure to its alternative fold -->
<g id="connectors">
<line x1="305" y1="397" x2="305" y2="362" stroke="#000" stroke-width="2.8"/>
<path d="M305,340 L312.7,365 L297.3,365Z" fill="#000"/>
<line x1="632.7" y1="984" x2="687" y2="984" stroke="#000" stroke-width="7.3"/>
<path d="M713.3,984 L685,975 L685,992.7Z" fill="#000"/>
</g>
</svg>
